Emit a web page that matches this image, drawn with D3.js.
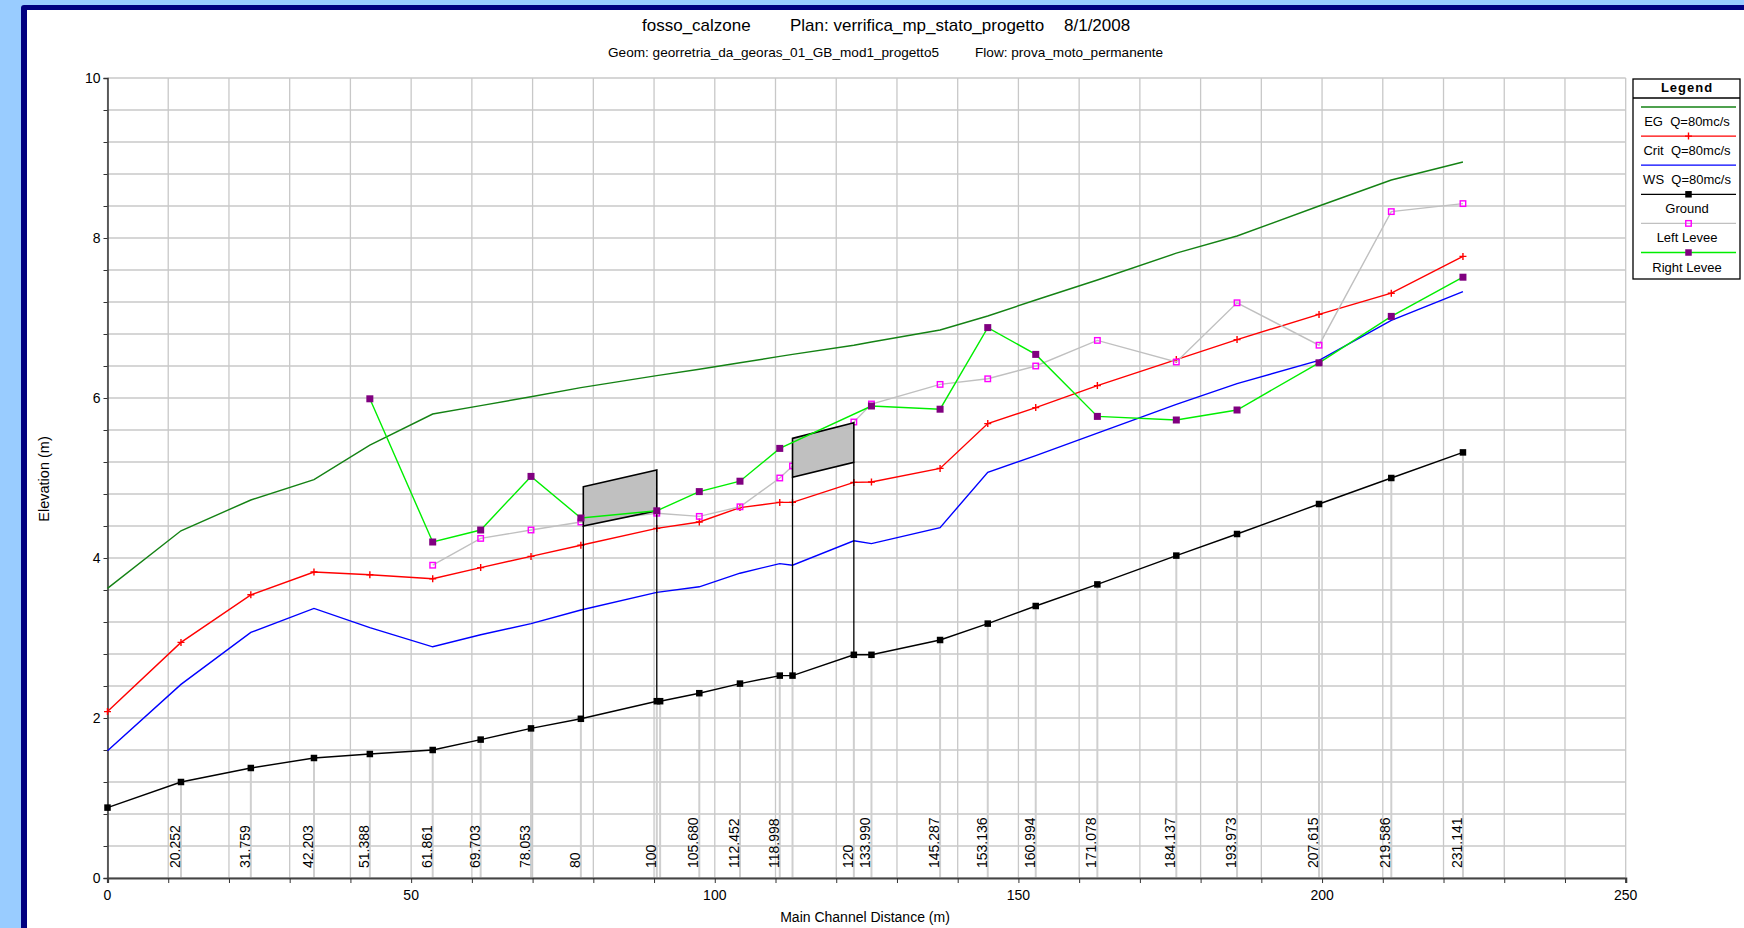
<!DOCTYPE html>
<html>
<head>
<meta charset="utf-8">
<script src="https://cdn.jsdelivr.net/npm/d3@7"></script>
<style>
  html, body { margin: 0; padding: 0; background: #99ccff; overflow: hidden; }
  svg { display: block; font-family: "Liberation Sans", Arial, sans-serif; }
  .pre { white-space: pre; }
</style>
</head>
<body>
<div id="chart"></div>
<script>
// Main channel distance (m) of every cross section
const distance = [0, 12.1, 23.6, 34.0, 43.2, 53.55, 61.45, 69.74, 77.95, 90.45, 91.0, 97.45, 104.15,
    110.7, 112.8, 122.9, 125.8, 137.1, 144.95, 152.85, 163.0, 176.0, 186.0, 199.5, 211.4, 223.2];
// River station labels ('' = label not drawn)
const stationLabels = ['', '20.252', '31.759', '42.203', '51.388', '61.861', '69.703', '78.053', '80', '100', '',
    '105.680', '112.452', '118.998', '', '120', '133.990', '145.287', '153.136', '160.994', '171.078',
    '184.137', '193.973', '207.615', '219.586', '231.141'];

const ground = [0.88, 1.20, 1.375, 1.50, 1.55, 1.60, 1.73, 1.87, 1.99, 2.21, 2.21, 2.31, 2.43,
    2.53, 2.53, 2.79, 2.79, 2.975, 3.18, 3.40, 3.67, 4.03, 4.30, 4.675, 5.00, 5.32];
const wsElev = [1.59, 2.42, 3.07, 3.37, 3.13, 2.89, 3.04, 3.18, 3.35, 3.57, null, 3.64, 3.81,
    3.93, 3.91, 4.215, 4.18, 4.38, 5.07, 5.28, 5.56, 5.92, 6.18, 6.47, 6.97, 7.33];
const critElev = [2.08, 2.945, 3.54, 3.825, 3.79, 3.74, 3.88, 4.02, 4.16, 4.37, null, 4.45, 4.63,
    4.695, 4.695, 4.945, 4.95, 5.12, 5.68, 5.88, 6.155, 6.48, 6.73, 7.045, 7.31, 7.77];
const egElev = [3.62, 4.34, 4.725, 4.98, 5.41, 5.80, 5.905, 6.015, 6.13, 6.28, null, 6.36, 6.44,
    6.52, 6.545, 6.66, 6.70, 6.85, 7.025, 7.225, 7.475, 7.81, 8.025, 8.40, 8.725, 8.95];
const leftLevee = [null, null, null, null, null, 3.91, 4.245, 4.35, 4.45, 4.56, null, 4.52, 4.64,
    5.00, 5.15, 5.70, 5.925, 6.17, 6.24, 6.40, 6.72, 6.45, 7.19, 6.66, 8.33, 8.43];
const rightLevee = [null, null, null, null, 5.99, 4.20, 4.35, 5.02, 4.50, 4.59, null, 4.83, 4.96,
    5.37, null, null, 5.90, 5.86, 6.88, 6.545, 5.77, 5.725, 5.85, 6.44, 7.02, 7.51];

// Bridge decks: [upstream dist, downstream dist], high chord and low chord at each end
const bridgeX = [[78.35, 90.45], [112.8, 122.9]];
const bridgeHigh = [[4.89, 5.10], [5.495, 5.69]];
const bridgeLow = [[4.40, 4.59], [5.01, 5.195]];
const bridgeGround = [[1.99, 2.21], [2.53, 2.79]];

const legendNames = ['EG  Q=80mc/s', 'Crit  Q=80mc/s', 'WS  Q=80mc/s', 'Ground', 'Left Levee', 'Right Levee'];
const xTicks = [0, 50, 100, 150, 200, 250];
const yTicks = [0, 2, 4, 6, 8, 10];

const W = 1744, H = 928;
const svg = d3.select('#chart').append('svg').attr('width', W).attr('height', H);

// page frame
svg.append('rect').attr('width', W).attr('height', H).attr('fill', '#99ccff');
svg.append('rect').attr('x', 21).attr('y', 5).attr('width', W).attr('height', H).attr('rx', 3)
    .attr('fill', '#000080');
svg.append('rect').attr('x', 27).attr('y', 10).attr('width', W).attr('height', H).attr('fill', '#ffffff');

const x = d3.scaleLinear().domain([0, 250]).range([107.5, 1625.7]);
const y = d3.scaleLinear().domain([0, 10]).range([878, 78]);

// Titles
const title = svg.append('g').attr('font-size', 17).attr('fill', '#000');
title.append('text').attr('x', 642).attr('y', 31).text('fosso_calzone');
title.append('text').attr('x', 790).attr('y', 31).text('Plan: verrifica_mp_stato_progetto');
title.append('text').attr('x', 1064).attr('y', 31).text('8/1/2008');
const sub = svg.append('g').attr('font-size', 13.6).attr('fill', '#000');
sub.append('text').attr('x', 608).attr('y', 57).text('Geom: georretria_da_georas_01_GB_mod1_progetto5');
sub.append('text').attr('x', 975).attr('y', 57).text('Flow: prova_moto_permanente');

// Grid
const g = svg.append('g');
g.append('g').selectAll('line').data(d3.range(0, 251, 10)).join('line')
    .attr('x1', d => x(d)).attr('x2', d => x(d)).attr('y1', y(0)).attr('y2', y(10))
    .attr('stroke', '#c8c8c8').attr('stroke-width', 1.3);
g.append('g').selectAll('line').data(d3.range(0, 26).map(i => i * 0.4)).join('line')
    .attr('x1', x(0)).attr('x2', x(250)).attr('y1', d => y(d)).attr('y2', d => y(d))
    .attr('stroke', '#c8c8c8').attr('stroke-width', 1.6);

// Station lines + labels
const stations = distance.map((d, i) => ({ d, z: ground[i], label: stationLabels[i] }));
g.append('g').selectAll('line').data(stations.filter(s => s.d > 0)).join('line')
    .attr('x1', s => x(s.d)).attr('x2', s => x(s.d)).attr('y1', s => y(s.z)).attr('y2', y(0))
    .attr('stroke', '#cfcfcf').attr('stroke-width', 2);
g.append('g').attr('font-size', 14).selectAll('text').data(stations.filter(s => s.label)).join('text')
    .attr('transform', s => `translate(${x(s.d) - 1},868) rotate(-90)`)
    .text(s => s.label);

// Axes
const yAxis = g.append('g').attr('transform', `translate(${x(0)},0)`)
    .call(d3.axisLeft(y).tickValues(d3.range(0, 26).map(i => i * 0.4)).tickSize(4).tickFormat(''));
yAxis.select('.domain').attr('stroke', '#333').attr('stroke-width', 1.5);
yAxis.selectAll('.tick line').attr('stroke', '#333');
g.append('g').attr('font-size', 14).attr('text-anchor', 'end').selectAll('text').data(yTicks).join('text')
    .attr('x', x(0) - 7).attr('y', d => y(d) + 5).text(d => d);

const xAxis = g.append('g').attr('transform', `translate(0,${y(0)})`)
    .call(d3.axisBottom(x).tickValues(d3.range(0, 251, 10)).tickSize(5).tickFormat(''));
xAxis.select('.domain').attr('stroke', '#444').attr('stroke-width', 2.2);
xAxis.selectAll('.tick line').attr('stroke', '#333');
g.append('g').attr('font-size', 14).attr('text-anchor', 'middle').selectAll('text').data(xTicks).join('text')
    .attr('x', d => x(d)).attr('y', 900).text(d => d);

svg.append('text').attr('x', 865).attr('y', 922).attr('font-size', 14).attr('text-anchor', 'middle')
    .text('Main Channel Distance (m)');
svg.append('text').attr('transform', 'translate(49,479) rotate(-90)').attr('font-size', 14.5)
    .attr('text-anchor', 'middle').text('Elevation (m)');

// Series
const pts = vals => distance.map((d, i) => ({ d, v: vals[i] })).filter(p => p.v != null);
const line = d3.line().x(p => x(p.d)).y(p => y(p.v));

function drawLine(vals, color, width) {
    g.append('path').datum(pts(vals)).attr('d', line).attr('fill', 'none')
        .attr('stroke', color).attr('stroke-width', width);
}
function squares(vals, size, fill, stroke) {
    g.append('g').selectAll('rect').data(pts(vals)).join('rect')
        .attr('x', p => x(p.d) - size / 2).attr('y', p => y(p.v) - size / 2)
        .attr('width', size).attr('height', size)
        .attr('fill', fill).attr('stroke', stroke || 'none').attr('stroke-width', 1.4);
}
function crosses(vals, size, color) {
    g.append('g').selectAll('path').data(pts(vals)).join('path')
        .attr('d', p => `M${x(p.d) - size / 2},${y(p.v)}h${size}M${x(p.d)},${y(p.v) - size / 2}v${size}`)
        .attr('stroke', color).attr('stroke-width', 1.4);
}

drawLine(egElev, '#148214', 1.4);
drawLine(wsElev, '#0000ff', 1.4);
drawLine(critElev, '#ff0000', 1.4);
crosses(critElev, 7, '#ff0000');
drawLine(ground, '#000000', 1.4);
squares(ground, 6.5, '#000000');
drawLine(leftLevee, '#c0c0c0', 1.4);
squares(leftLevee, 5.5, 'none', '#ff00ff');

// Bridges
bridgeX.forEach((bx, i) => {
    const [x0, x1] = bx;
    const [h0, h1] = bridgeHigh[i];
    const [l0, l1] = bridgeLow[i];
    const [g0, g1] = bridgeGround[i];
    g.append('path')
        .attr('d', `M${x(x0)},${y(h0)}L${x(x1)},${y(h1)}L${x(x1)},${y(l1)}L${x(x0)},${y(l0)}Z`)
        .attr('fill', '#c0c0c0').attr('stroke', '#000').attr('stroke-width', 1.6);
    g.append('path')
        .attr('d', `M${x(x0)},${y(l0)}V${y(g0)}M${x(x1)},${y(l1)}V${y(g1)}`)
        .attr('stroke', '#000').attr('stroke-width', 1.3);
});

drawLine(rightLevee, '#00ee00', 1.4);
squares(rightLevee, 7, '#800080');

// Legend
const lg = svg.append('g');
lg.append('rect').attr('x', 1633).attr('y', 79).attr('width', 107).attr('height', 200)
    .attr('fill', '#fff').attr('stroke', '#000').attr('stroke-width', 1.3);
lg.append('line').attr('x1', 1633).attr('x2', 1740).attr('y1', 98).attr('y2', 98)
    .attr('stroke', '#000').attr('stroke-width', 1.3);
lg.append('text').attr('x', 1687).attr('y', 92).attr('font-size', 13).attr('font-weight', 'bold')
    .attr('text-anchor', 'middle').attr('letter-spacing', 1).text('Legend');
const legendStyle = [
    { color: '#148214', mark: null },
    { color: '#ff0000', mark: 'cross' },
    { color: '#0000ff', mark: null },
    { color: '#000000', mark: 'sq', fill: '#000' },
    { color: '#c0c0c0', mark: 'open', fill: 'none', stroke: '#ff00ff' },
    { color: '#00ee00', mark: 'sq', fill: '#800080' }
];
legendNames.forEach((name, i) => {
    const ly = 107 + i * 29.1;
    const st = legendStyle[i];
    lg.append('line').attr('x1', 1641).attr('x2', 1736).attr('y1', ly).attr('y2', ly)
        .attr('stroke', st.color).attr('stroke-width', 1.3);
    if (st.mark === 'cross') {
        lg.append('path').attr('d', `M1685,${ly}h7M1688.5,${ly - 3.5}v7`).attr('stroke', st.color).attr('stroke-width', 1.4);
    } else if (st.mark) {
        const s = st.mark === 'open' ? 5.5 : 6.5;
        lg.append('rect').attr('x', 1688.5 - s / 2).attr('y', ly - s / 2).attr('width', s).attr('height', s)
            .attr('fill', st.fill).attr('stroke', st.stroke || 'none').attr('stroke-width', 1.4);
    }
    lg.append('text').attr('class', 'pre').attr('x', 1687).attr('y', ly + 19).attr('font-size', 13)
        .attr('text-anchor', 'middle').text(name);
});
</script>
</body>
</html>
